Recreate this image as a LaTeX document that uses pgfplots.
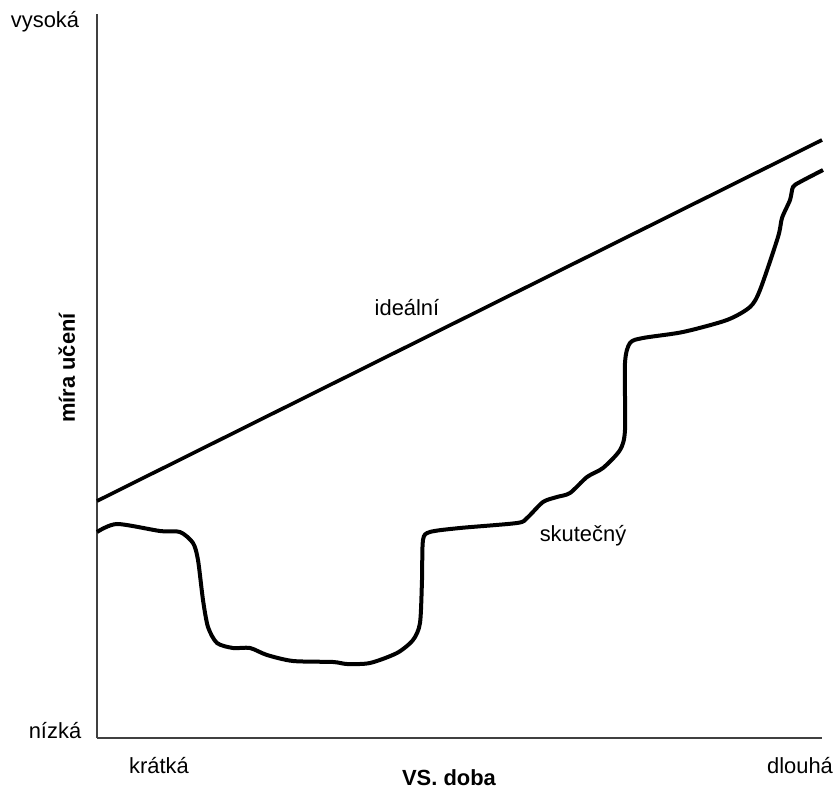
\documentclass[border=0pt]{standalone}
\usepackage{pgfplots}
\pgfplotsset{compat=1.18}
\usepackage{fontspec}
\setmainfont{Liberation Sans}

\tikzset{
  lbl/.style={font=\fontsize{11}{13}\selectfont, inner sep=0pt, anchor=base},
  bld/.style={font=\fontsize{11}{13}\selectfont\bfseries, inner sep=0pt, anchor=base},
}

\begin{document}
\begin{tikzpicture}
  \begin{axis}[
      x=0.5bp, y=0.5bp,
      xmin=97, xmax=822,
      ymin=49, ymax=773,
      axis lines=left,
      axis line style={-, line width=1bp, black!75},
      xtick=\empty, ytick=\empty,
      clip=false,
    ]
    % keep the page the size of the reference
    \path (axis cs:0,0) rectangle (axis cs:836,787);

    % ideal
    \addplot[black, line width=1.8bp] coordinates {(97,286) (822,647)};

    % actual
    \addplot[black, line width=2bp, smooth, tension=0.45] coordinates {
      (97,255) (117,263) (160,256) (180,255) (193,244) (198,227)
      (203,187) (208,160) (217,144) (233,139) (250,139) (267,132)
      (293,126) (333,125) (347,123) (370,124) (397,134) (413,147)
      (420,164) (422,207) (423,247) (430,255) (460,259) (517,264)
      (527,269) (543,285) (557,290) (570,294) (587,310) (603,319)
      (620,337) (625,357) (625,424) (630,444) (643,449) (683,455)
      (727,467) (750,480) (760,497) (778,550) (782,569) (790,587)
      (793,600) (800,605) (823,617)
    };

    \node[lbl] at (axis cs:407,471) {ideální};
    \node[lbl] at (axis cs:583,245) {skutečný};
    \node[lbl] at (axis cs:45,759) {vysoká};
    \node[lbl] at (axis cs:55,49) {nízká};
    \node[lbl] at (axis cs:159,14) {krátká};
    \node[lbl] at (axis cs:800,14) {dlouhá};
    \node[bld] at (axis cs:449,2) {VS. doba};
    \node[bld, rotate=90] at (axis cs:75,419) {míra učení};
  \end{axis}
\end{tikzpicture}
\end{document}
